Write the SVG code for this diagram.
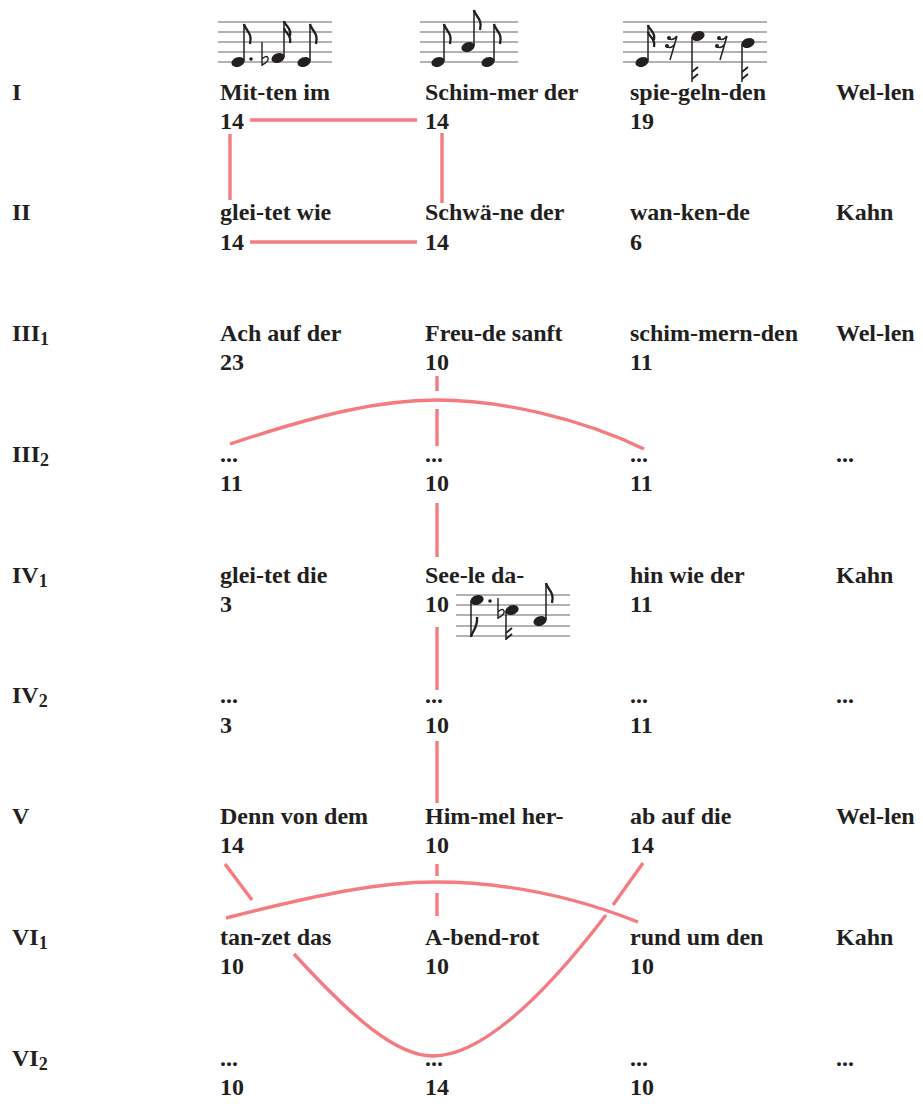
<svg xmlns="http://www.w3.org/2000/svg" width="923" height="1106" viewBox="0 0 923 1106">
<style>
text{font-family:"Liberation Serif","Times New Roman",serif;font-weight:bold;font-size:24px;fill:#231f20}
.sub{font-size:18px}
.c{fill:none;stroke:#f47b7f;stroke-width:3.4}
.st{stroke:#666;stroke-width:1.1}
.stem{stroke:#231f20;stroke-width:1.5}
.fl{fill:none;stroke:#231f20;stroke-width:2.3}
.hd{fill:#231f20}
</style>
<rect width="923" height="1106" fill="#fff"/>

<g id="connectors">
<path class="c" d="M250 120H417"/>
<path class="c" d="M250 242H417"/>
<path class="c" d="M230 134V200"/>
<path class="c" d="M442 133V203"/>
<path class="c" d="M437 376V391M437 409V446"/>
<path class="c" d="M230 444C320 414 380 400 437 400C500 400 580 418 644 449"/>
<path class="c" d="M437 503V557"/>
<path class="c" d="M437 627V690"/>
<path class="c" d="M437 741V803"/>
<path class="c" d="M437 864V876M437 893V916"/>
<path class="c" d="M226 918C320 894 380 882 435 882C500 882 570 895 638 922"/>
<path class="c" d="M225 864L252 900"/>
<path class="c" d="M643 863L613 905"/>
<path class="c" d="M294 954C350 1015 395 1056 433 1056C490 1056 560 975 606 915"/>
</g>

<g id="notation1">
<path class="st" d="M218 22H332M218 32H332M218 42H332M218 52H332M218 62H332"/>
<ellipse class="hd" cx="238" cy="62" rx="6.8" ry="4.8" transform="rotate(-20 238 62)"/>
<path class="stem" d="M244 61V24"/>
<path class="fl" d="M244 24c1 6 9 9 6 20"/>
<circle class="hd" cx="251" cy="59" r="1.8"/>
<path class="fl" style="stroke-width:1.4" d="M262 42V65c4-2 7-4 6-7c-1-3-4-1-6 1"/>
<ellipse class="hd" cx="278" cy="58" rx="6.8" ry="4.8" transform="rotate(-20 278 58)"/>
<path class="stem" d="M284 57V21"/>
<path class="fl" d="M284 21c1 5 8 7 6 15M284 28c1 5 8 7 6 15"/>
<ellipse class="hd" cx="304" cy="62" rx="6.8" ry="4.8" transform="rotate(-20 304 62)"/>
<path class="stem" d="M310 61V24"/>
<path class="fl" d="M310 24c1 6 9 9 6 20"/>
</g>

<g id="notation2">
<path class="st" d="M420 22H518M420 32H518M420 42H518M420 52H518M420 62H518"/>
<ellipse class="hd" cx="438" cy="62" rx="6.8" ry="4.8" transform="rotate(-20 438 62)"/>
<path class="stem" d="M444 61V24"/>
<path class="fl" d="M444 24c1 6 9 9 6 20"/>
<ellipse class="hd" cx="468" cy="47" rx="6.8" ry="4.8" transform="rotate(-20 468 47)"/>
<path class="stem" d="M474 46V10"/>
<path class="fl" d="M474 10c1 6 9 9 6 20"/>
<ellipse class="hd" cx="488" cy="62" rx="6.8" ry="4.8" transform="rotate(-20 488 62)"/>
<path class="stem" d="M494 61V24"/>
<path class="fl" d="M494 24c1 6 9 9 6 20"/>
</g>

<g id="notation3">
<path class="st" d="M623 22H767M623 32H767M623 42H767M623 52H767M623 62H767"/>
<ellipse class="hd" cx="642" cy="62" rx="6.8" ry="4.8" transform="rotate(-20 642 62)"/>
<path class="stem" d="M648 61V25"/>
<path class="fl" d="M648 25c1 5 8 7 6 15M648 32c1 5 8 7 6 15"/>
<path class="fl" style="stroke-width:1.5" d="M677 36L670 60M677 36c-2 3-5 4-8 3M675 44c-2 3-5 4-8 3"/>
<circle class="hd" cx="669" cy="38" r="2"/><circle class="hd" cx="667" cy="46" r="2"/>
<ellipse class="hd" cx="698" cy="36" rx="6.8" ry="4.8" transform="rotate(-20 698 36)"/>
<path class="stem" d="M692 37V82"/>
<path class="fl" style="stroke-width:1.8" d="M692 72l6-5M692 79l6-5"/>
<path class="fl" style="stroke-width:1.5" d="M727 36L720 60M727 36c-2 3-5 4-8 3M725 44c-2 3-5 4-8 3"/>
<circle class="hd" cx="719" cy="38" r="2"/><circle class="hd" cx="717" cy="46" r="2"/>
<ellipse class="hd" cx="748" cy="43" rx="6.8" ry="4.8" transform="rotate(-20 748 43)"/>
<path class="stem" d="M742 44V82"/>
<path class="fl" style="stroke-width:1.8" d="M742 72l6-5M742 79l6-5"/>
</g>

<g id="notation4">
<path class="st" d="M456 595H570M456 605H570M456 615H570M456 626H570M456 636H570"/>
<ellipse class="hd" cx="477" cy="600" rx="6.8" ry="4.8" transform="rotate(-20 477 600)"/>
<path class="stem" d="M471 601V637"/>
<path class="fl" d="M471 637c1-6 7-9 6-20"/>
<circle class="hd" cx="490" cy="601" r="1.8"/>
<path class="fl" style="stroke-width:1.4" d="M498 598V618c4-2 7-4 6-7c-1-3-4-1-6 1"/>
<ellipse class="hd" cx="512" cy="610" rx="6.8" ry="4.8" transform="rotate(-20 512 610)"/>
<path class="stem" d="M506 611V640"/>
<path class="fl" style="stroke-width:1.8" d="M506 633l6-5M506 639l6-5"/>
<ellipse class="hd" cx="540" cy="621" rx="6.8" ry="4.8" transform="rotate(-20 540 621)"/>
<path class="stem" d="M546 620V583"/>
<path class="fl" d="M546 583c1 6 9 9 6 20"/>
</g>

<g id="rowlabels">
<text x="12" y="100">I</text>
<text x="12" y="220">II</text>
<text x="12" y="341">III<tspan class="sub" dy="4">1</tspan></text>
<text x="12" y="462">III<tspan class="sub" dy="4">2</tspan></text>
<text x="12" y="583">IV<tspan class="sub" dy="4">1</tspan></text>
<text x="12" y="703">IV<tspan class="sub" dy="4">2</tspan></text>
<text x="12" y="824">V</text>
<text x="12" y="945">VI<tspan class="sub" dy="4">1</tspan></text>
<text x="12" y="1066">VI<tspan class="sub" dy="4">2</tspan></text>
</g>

<g id="r1c1"><text x="220" y="100">Mit-ten im</text><text x="220" y="129">14</text></g>
<g id="r1c2"><text x="425" y="100">Schim-mer der</text><text x="425" y="129">14</text></g>
<g id="r1c3"><text x="630" y="100">spie-geln-den</text><text x="630" y="129">19</text></g>
<g id="r1c4"><text x="836" y="100">Wel-len</text></g>

<g id="r2c1"><text x="220" y="220">glei-tet wie</text><text x="220" y="250">14</text></g>
<g id="r2c2"><text x="425" y="220">Schwä-ne der</text><text x="425" y="250">14</text></g>
<g id="r2c3"><text x="630" y="220">wan-ken-de</text><text x="630" y="250">6</text></g>
<g id="r2c4"><text x="836" y="220">Kahn</text></g>

<g id="r3c1"><text x="220" y="341">Ach auf der</text><text x="220" y="370">23</text></g>
<g id="r3c2"><text x="425" y="341">Freu-de sanft</text><text x="425" y="370">10</text></g>
<g id="r3c3"><text x="630" y="341">schim-mern-den</text><text x="630" y="370">11</text></g>
<g id="r3c4"><text x="836" y="341">Wel-len</text></g>

<g id="r4c1"><text x="220" y="462">...</text><text x="220" y="491">11</text></g>
<g id="r4c2"><text x="425" y="462">...</text><text x="425" y="491">10</text></g>
<g id="r4c3"><text x="630" y="462">...</text><text x="630" y="491">11</text></g>
<g id="r4c4"><text x="836" y="462">...</text></g>

<g id="r5c1"><text x="220" y="583">glei-tet die</text><text x="220" y="612">3</text></g>
<g id="r5c2"><text x="425" y="583">See-le da-</text><text x="425" y="612">10</text></g>
<g id="r5c3"><text x="630" y="583">hin wie der</text><text x="630" y="612">11</text></g>
<g id="r5c4"><text x="836" y="583">Kahn</text></g>

<g id="r6c1"><text x="220" y="703">...</text><text x="220" y="733">3</text></g>
<g id="r6c2"><text x="425" y="703">...</text><text x="425" y="733">10</text></g>
<g id="r6c3"><text x="630" y="703">...</text><text x="630" y="733">11</text></g>
<g id="r6c4"><text x="836" y="703">...</text></g>

<g id="r7c1"><text x="220" y="824">Denn von dem</text><text x="220" y="853">14</text></g>
<g id="r7c2"><text x="425" y="824">Him-mel her-</text><text x="425" y="853">10</text></g>
<g id="r7c3"><text x="630" y="824">ab auf die</text><text x="630" y="853">14</text></g>
<g id="r7c4"><text x="836" y="824">Wel-len</text></g>

<g id="r8c1"><text x="220" y="945">tan-zet das</text><text x="220" y="974">10</text></g>
<g id="r8c2"><text x="425" y="945">A-bend-rot</text><text x="425" y="974">10</text></g>
<g id="r8c3"><text x="630" y="945">rund um den</text><text x="630" y="974">10</text></g>
<g id="r8c4"><text x="836" y="945">Kahn</text></g>

<g id="r9c1"><text x="220" y="1066">...</text><text x="220" y="1095">10</text></g>
<g id="r9c2"><text x="425" y="1066">...</text><text x="425" y="1095">14</text></g>
<g id="r9c3"><text x="630" y="1066">...</text><text x="630" y="1095">10</text></g>
<g id="r9c4"><text x="836" y="1066">...</text></g>
</svg>
